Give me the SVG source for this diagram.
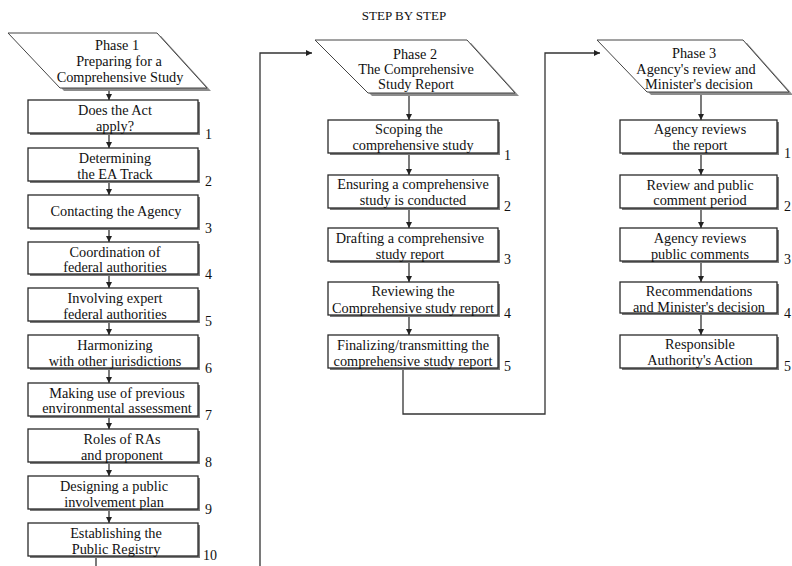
<svg xmlns="http://www.w3.org/2000/svg" width="792" height="566" viewBox="0 0 792 566">
<style>
text{font-family:"Liberation Serif","Times New Roman",serif;fill:#111}
.t{font-size:14.3px;text-anchor:middle}
.n{font-size:14px}
.title{font-size:13px;text-anchor:middle}
.box{fill:#fff;stroke:#2a2a2a;stroke-width:1.3}
.sh{fill:#7a7a7a}
.ph{fill:#fff;stroke:#444;stroke-width:1}
.phs{fill:#8c8c8c}
.ln{fill:none;stroke:#333;stroke-width:1.3}
</style>
<defs>
<marker id="ah" viewBox="0 0 8 8" refX="8" refY="4" markerWidth="6" markerHeight="6" orient="auto" markerUnits="userSpaceOnUse">
<path d="M0,0 L8,4 L0,8 z" fill="#222"/>
</marker>
</defs>
<rect width="792" height="566" fill="#fff"/>
<text class="title" x="404" y="20">STEP BY STEP</text>

<g id="connectors">
<path class="ln" d="M109,88 V100" marker-end="url(#ah)"/>
<path class="ln" d="M109,134 V148" marker-end="url(#ah)"/>
<path class="ln" d="M109,181 V195" marker-end="url(#ah)"/>
<path class="ln" d="M109,228 V242" marker-end="url(#ah)"/>
<path class="ln" d="M109,274 V288" marker-end="url(#ah)"/>
<path class="ln" d="M109,321 V335" marker-end="url(#ah)"/>
<path class="ln" d="M109,368 V383" marker-end="url(#ah)"/>
<path class="ln" d="M109,416 V429" marker-end="url(#ah)"/>
<path class="ln" d="M109,462 V476" marker-end="url(#ah)"/>
<path class="ln" d="M109,509 V523" marker-end="url(#ah)"/>
<path class="ln" d="M96,556 V566"/>
<path class="ln" d="M260,566 V53 H312" marker-end="url(#ah)"/>
<path class="ln" d="M409,93 V120" marker-end="url(#ah)"/>
<path class="ln" d="M409,153 V175" marker-end="url(#ah)"/>
<path class="ln" d="M409,208 V228" marker-end="url(#ah)"/>
<path class="ln" d="M409,261 V282" marker-end="url(#ah)"/>
<path class="ln" d="M409,315 V335" marker-end="url(#ah)"/>
<path class="ln" d="M403,368 V414 H545 V53 H600" marker-end="url(#ah)"/>
<path class="ln" d="M701,92 V120" marker-end="url(#ah)"/>
<path class="ln" d="M701,153 V175" marker-end="url(#ah)"/>
<path class="ln" d="M701,208 V228" marker-end="url(#ah)"/>
<path class="ln" d="M701,261 V282" marker-end="url(#ah)"/>
<path class="ln" d="M701,315 V335" marker-end="url(#ah)"/>
</g>

<g id="phase1">
<polygon class="phs" points="12,36 161,36 211,91 64,91"/>
<polygon class="ph" points="8,33 157,33 207,88 60,88"/>
<text class="t" x="117" y="50">Phase 1</text>
<text class="t" x="119" y="66">Preparing for a</text>
<text class="t" x="120" y="82">Comprehensive Study</text>
</g>

<g id="p1s1"><rect class="sh" x="30" y="102" width="170" height="33"/><rect class="box" x="28" y="100" width="170" height="33"/>
<text class="t" x="115" y="115">Does the Act</text><text class="t" x="115" y="131">apply?</text><text class="n" x="205" y="139">1</text></g>
<g id="p1s2"><rect class="sh" x="30" y="150" width="170" height="33"/><rect class="box" x="28" y="148" width="170" height="33"/>
<text class="t" x="115" y="163">Determining</text><text class="t" x="115" y="179">the EA Track</text><text class="n" x="205" y="186">2</text></g>
<g id="p1s3"><rect class="sh" x="30" y="197" width="170" height="33"/><rect class="box" x="28" y="195" width="170" height="33"/>
<text class="t" x="116" y="216">Contacting the Agency</text><text class="n" x="205" y="233">3</text></g>
<g id="p1s4"><rect class="sh" x="30" y="244" width="170" height="32"/><rect class="box" x="28" y="242" width="170" height="32"/>
<text class="t" x="115" y="257">Coordination of</text><text class="t" x="115" y="272">federal authorities</text><text class="n" x="205" y="279">4</text></g>
<g id="p1s5"><rect class="sh" x="30" y="290" width="170" height="33"/><rect class="box" x="28" y="288" width="170" height="33"/>
<text class="t" x="115" y="303">Involving expert</text><text class="t" x="115" y="319">federal authorities</text><text class="n" x="205" y="326">5</text></g>
<g id="p1s6"><rect class="sh" x="30" y="337" width="170" height="33"/><rect class="box" x="28" y="335" width="170" height="33"/>
<text class="t" x="115" y="350">Harmonizing</text><text class="t" x="115" y="366">with other jurisdictions</text><text class="n" x="205" y="373">6</text></g>
<g id="p1s7"><rect class="sh" x="30" y="385" width="170" height="33"/><rect class="box" x="28" y="383" width="170" height="33"/>
<text class="t" x="117" y="398">Making use of previous</text><text class="t" x="117" y="413">environmental assessment</text><text class="n" x="205" y="420">7</text></g>
<g id="p1s8"><rect class="sh" x="30" y="431" width="170" height="33"/><rect class="box" x="28" y="429" width="170" height="33"/>
<text class="t" x="122" y="444">Roles of RAs</text><text class="t" x="122" y="460">and proponent</text><text class="n" x="205" y="467">8</text></g>
<g id="p1s9"><rect class="sh" x="30" y="478" width="170" height="33"/><rect class="box" x="28" y="476" width="170" height="33"/>
<text class="t" x="114" y="491">Designing a public</text><text class="t" x="114" y="507">involvement plan</text><text class="n" x="205" y="514">9</text></g>
<g id="p1s10"><rect class="sh" x="30" y="525" width="170" height="33"/><rect class="box" x="28" y="523" width="170" height="33"/>
<text class="t" x="116" y="538">Establishing the</text><text class="t" x="116" y="554">Public Registry</text><text class="n" x="203" y="560">10</text></g>

<g id="phase2">
<polygon class="phs" points="319,43 471,43 519,96 372,96"/>
<polygon class="ph" points="315,40 467,40 515,93 368,93"/>
<text class="t" x="415" y="59">Phase 2</text>
<text class="t" x="416" y="74">The Comprehensive</text>
<text class="t" x="416" y="89">Study Report</text>
</g>

<g id="p2s1"><rect class="sh" x="330" y="122" width="170" height="33"/><rect class="box" x="328" y="120" width="170" height="33"/>
<text class="t" x="409" y="134">Scoping the</text><text class="t" x="413" y="150">comprehensive study</text><text class="n" x="504" y="160">1</text></g>
<g id="p2s2"><rect class="sh" x="330" y="177" width="170" height="33"/><rect class="box" x="328" y="175" width="170" height="33"/>
<text class="t" x="413" y="189">Ensuring a comprehensive</text><text class="t" x="413" y="205">study is conducted</text><text class="n" x="504" y="211">2</text></g>
<g id="p2s3"><rect class="sh" x="330" y="230" width="170" height="33"/><rect class="box" x="328" y="228" width="170" height="33"/>
<text class="t" x="410" y="243">Drafting a comprehensive</text><text class="t" x="410" y="259">study report</text><text class="n" x="504" y="264">3</text></g>
<g id="p2s4"><rect class="sh" x="330" y="284" width="170" height="33"/><rect class="box" x="328" y="282" width="170" height="33"/>
<text class="t" x="413" y="296">Reviewing the</text><text class="t" x="413" y="313">Comprehensive study report</text><text class="n" x="504" y="318">4</text></g>
<g id="p2s5"><rect class="sh" x="330" y="337" width="170" height="33"/><rect class="box" x="328" y="335" width="170" height="33"/>
<text class="t" x="413" y="350">Finalizing/transmitting the</text><text class="t" x="413" y="366">comprehensive study report</text><text class="n" x="504" y="371">5</text></g>

<g id="phase3">
<polygon class="phs" points="601,43 747,43 793,95 651,95"/>
<polygon class="ph" points="597,40 743,40 789,92 647,92"/>
<text class="t" x="694" y="58">Phase 3</text>
<text class="t" x="696" y="74">Agency's review and</text>
<text class="t" x="699" y="89">Minister's decision</text>
</g>

<g id="p3s1"><rect class="sh" x="622" y="122" width="157" height="33"/><rect class="box" x="620" y="120" width="157" height="33"/>
<text class="t" x="700" y="134">Agency reviews</text><text class="t" x="700" y="150">the report</text><text class="n" x="784" y="158">1</text></g>
<g id="p3s2"><rect class="sh" x="622" y="177" width="157" height="33"/><rect class="box" x="620" y="175" width="157" height="33"/>
<text class="t" x="700" y="190">Review and public</text><text class="t" x="700" y="205">comment period</text><text class="n" x="784" y="211">2</text></g>
<g id="p3s3"><rect class="sh" x="622" y="230" width="157" height="33"/><rect class="box" x="620" y="228" width="157" height="33"/>
<text class="t" x="700" y="243">Agency reviews</text><text class="t" x="700" y="259">public comments</text><text class="n" x="784" y="264">3</text></g>
<g id="p3s4"><rect class="sh" x="622" y="284" width="157" height="31"/><rect class="box" x="620" y="282" width="157" height="31"/>
<text class="t" x="699" y="296">Recommendations</text><text class="t" x="699" y="312">and Minister's decision</text><text class="n" x="784" y="318">4</text></g>
<g id="p3s5"><rect class="sh" x="622" y="337" width="157" height="33"/><rect class="box" x="620" y="335" width="157" height="33"/>
<text class="t" x="700" y="349">Responsible</text><text class="t" x="700" y="365">Authority's Action</text><text class="n" x="784" y="371">5</text></g>
</svg>
